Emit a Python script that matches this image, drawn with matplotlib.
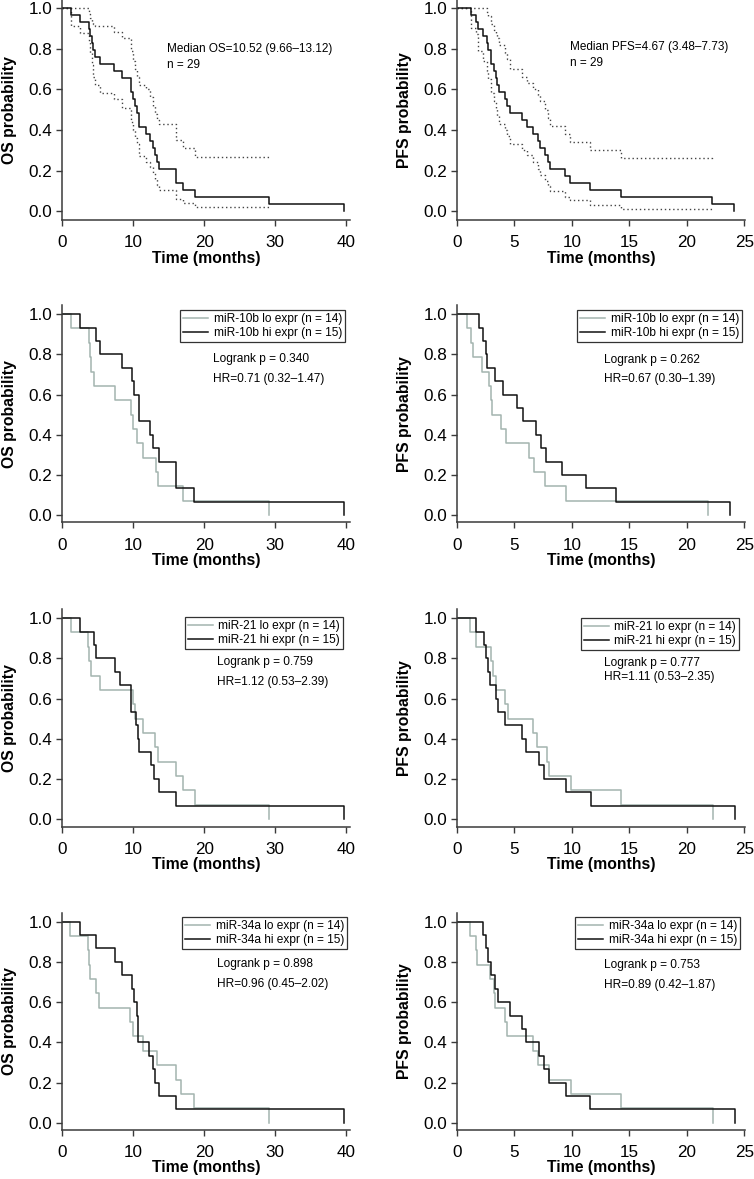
import matplotlib
matplotlib.use("Agg")
import matplotlib.pyplot as plt

plt.rcParams['font.family'] = ['Liberation Sans', 'DejaVu Sans']

# ---- overall OS (n = 29) ----
os_all_t = [0, 1.26, 2.53, 3.79, 3.98, 4.17, 4.4, 4.64, 5.3, 7.35, 8.38, 9.65, 10.0, 10.3, 10.6,
            10.87, 11.8, 12.37, 12.74, 13.07, 13.35, 13.63, 16.02, 17.05, 18.69, 29.13, 39.6]
os_all_s = [1, 0.966, 0.931, 0.897, 0.862, 0.828, 0.793, 0.759, 0.724, 0.690, 0.655, 0.586, 0.552, 0.517,
            0.483, 0.414, 0.379, 0.345, 0.310, 0.276, 0.241, 0.207, 0.138, 0.103, 0.069, 0.034, 0.0]
os_ci_t = [0, 1.26, 2.53, 3.79, 3.98, 4.17, 4.4, 4.64, 5.3, 7.35, 8.38, 9.65, 10.0, 10.3, 10.6,
           10.87, 11.8, 12.37, 12.74, 13.07, 13.35, 13.63, 16.02, 17.05, 18.69, 29.13]
os_ci_upper = [1, 1, 1, 0.97, 0.95, 0.93, 0.92, 0.91, 0.91, 0.88, 0.85, 0.79, 0.74, 0.70, 0.66,
               0.62, 0.60, 0.56, 0.52, 0.48, 0.45, 0.43, 0.35, 0.31, 0.265, 0.26]
os_ci_lower = [1, 0.91, 0.875, 0.83, 0.78, 0.72, 0.66, 0.62, 0.58, 0.55, 0.51, 0.44, 0.40, 0.36, 0.33,
               0.27, 0.24, 0.22, 0.19, 0.16, 0.13, 0.105, 0.06, 0.04, 0.02, 0.018]

# ---- overall PFS (n = 29) ----
pfs_all_t = [0, 1.21, 1.62, 1.79, 2.28, 2.57, 2.72, 2.92, 3.24, 3.35, 3.5, 3.64, 4.19, 4.34, 4.62,
             5.64, 6.07, 6.65, 7.08, 7.23, 7.66, 7.95, 8.09, 9.39, 9.83, 11.56, 14.25, 22.2, 24.05]
pfs_all_s = [1, 0.966, 0.931, 0.897, 0.862, 0.828, 0.793, 0.724, 0.690, 0.655, 0.621, 0.586, 0.552, 0.517,
             0.483, 0.448, 0.414, 0.379, 0.345, 0.310, 0.276, 0.241, 0.207, 0.172, 0.138, 0.103, 0.069,
             0.034, 0.0]
pfs_ci_t = [0, 1.21, 1.62, 1.79, 2.28, 2.57, 2.72, 2.92, 3.24, 3.35, 3.5, 3.64, 4.19, 4.34, 4.62,
            5.64, 6.07, 6.65, 7.08, 7.23, 7.66, 7.95, 8.09, 9.39, 9.83, 11.56, 14.25, 22.2]
pfs_ci_upper = [1, 1, 1, 1, 1, 0.98, 0.96, 0.92, 0.89, 0.87, 0.85, 0.82, 0.78, 0.75, 0.70,
                0.66, 0.63, 0.60, 0.57, 0.54, 0.50, 0.46, 0.42, 0.38, 0.34, 0.30, 0.26, 0.25]
pfs_ci_lower = [1, 0.90, 0.87, 0.79, 0.74, 0.69, 0.65, 0.58, 0.54, 0.51, 0.47, 0.43, 0.40, 0.37, 0.33,
                0.30, 0.275, 0.24, 0.21, 0.18, 0.15, 0.125, 0.10, 0.07, 0.053, 0.033, 0.013, 0.013]

# ---- miR-10b ----
mir10b_os_lo_t = [0, 1.26, 3.8, 3.93, 4.07, 4.54, 7.45, 9.65, 10.0, 10.5, 11.33, 13.2, 13.44, 17.05, 29.1]
mir10b_os_lo_s = [1, 0.929, 0.857, 0.786, 0.714, 0.643, 0.571, 0.50, 0.429, 0.357, 0.286, 0.214, 0.143, 0.071, 0]
mir10b_os_hi_t = [0, 2.53, 4.73, 5.34, 8.38, 9.8, 10.13, 10.8, 12.37, 12.74, 13.68, 16.0, 18.6, 39.6]
mir10b_os_hi_s = [1, 0.933, 0.867, 0.80, 0.733, 0.667, 0.60, 0.467, 0.40, 0.333, 0.267, 0.133, 0.067, 0]
mir10b_pfs_lo_t = [0, 0.84, 1.22, 1.36, 2.2, 2.8, 2.95, 3.07, 3.82, 4.25, 6.25, 6.68, 7.64, 9.52, 21.8]
mir10b_pfs_lo_s = [1, 0.929, 0.857, 0.786, 0.714, 0.643, 0.571, 0.50, 0.429, 0.357, 0.286, 0.214, 0.143, 0.071, 0]
mir10b_pfs_hi_t = [0, 1.94, 2.29, 2.52, 2.63, 3.3, 4.02, 5.24, 5.7, 6.83, 7.29, 7.78, 9.09, 11.26, 13.83, 23.73]
mir10b_pfs_hi_s = [1, 0.933, 0.867, 0.80, 0.733, 0.667, 0.60, 0.533, 0.467, 0.40, 0.333, 0.267, 0.20, 0.133, 0.067, 0]

# ---- miR-21 ----
mir21_os_lo_t = [0, 1.22, 3.7, 3.85, 4.03, 5.34, 10.0, 10.26, 11.4, 13.07, 13.5, 16.0, 16.95, 18.7, 29.1]
mir21_os_lo_s = [1, 0.929, 0.857, 0.786, 0.714, 0.643, 0.571, 0.50, 0.429, 0.357, 0.286, 0.214, 0.143, 0.071, 0]
mir21_os_hi_t = [0, 2.53, 4.54, 4.78, 7.45, 8.15, 9.7, 10.4, 10.63, 10.87, 12.5, 12.93, 13.68, 15.97, 39.6]
mir21_os_hi_s = [1, 0.933, 0.867, 0.80, 0.733, 0.667, 0.533, 0.467, 0.40, 0.333, 0.267, 0.20, 0.133, 0.067, 0]
mir21_pfs_lo_t = [0, 1.16, 1.65, 2.95, 3.15, 3.35, 4.2, 4.4, 6.57, 6.94, 7.87, 8.03, 9.92, 14.27, 22.28]
mir21_pfs_lo_s = [1, 0.929, 0.857, 0.786, 0.714, 0.643, 0.571, 0.50, 0.429, 0.357, 0.286, 0.214, 0.143, 0.071, 0]
mir21_pfs_hi_t = [0, 1.65, 2.37, 2.55, 2.7, 2.9, 3.39, 3.53, 4.2, 5.64, 6.0, 7.15, 7.6, 9.49, 11.63, 24.16]
mir21_pfs_hi_s = [1, 0.933, 0.867, 0.80, 0.733, 0.667, 0.60, 0.533, 0.467, 0.40, 0.333, 0.267, 0.20, 0.133, 0.067, 0]

# ---- miR-34a ----
mir34a_os_lo_t = [0, 1.12, 3.7, 3.85, 4.0, 4.73, 5.25, 9.55, 10.0, 11.33, 13.3, 15.97, 16.8, 18.6, 29.1]
mir34a_os_lo_s = [1, 0.929, 0.857, 0.786, 0.714, 0.643, 0.571, 0.50, 0.429, 0.357, 0.286, 0.214, 0.143, 0.071, 0]
mir34a_os_hi_t = [0, 2.53, 4.73, 7.45, 8.38, 9.79, 10.16, 10.5, 10.73, 12.27, 12.74, 13.07, 13.63, 15.97, 39.6]
mir34a_os_hi_s = [1, 0.933, 0.867, 0.80, 0.733, 0.667, 0.60, 0.533, 0.40, 0.333, 0.267, 0.20, 0.133, 0.067, 0]
mir34a_pfs_lo_t = [0, 1.16, 1.65, 1.7, 2.9, 3.18, 3.33, 4.14, 4.34, 6.65, 7.03, 8.04, 9.92, 14.27, 22.28]
mir34a_pfs_lo_s = [1, 0.929, 0.857, 0.786, 0.714, 0.643, 0.571, 0.50, 0.429, 0.357, 0.286, 0.214, 0.143, 0.071, 0]
mir34a_pfs_hi_t = [0, 2.26, 2.55, 2.69, 2.95, 3.33, 3.53, 4.63, 5.64, 6.0, 7.15, 7.6, 8.04, 9.49, 11.57, 24.16]
mir34a_pfs_hi_s = [1, 0.933, 0.867, 0.80, 0.733, 0.667, 0.60, 0.533, 0.467, 0.40, 0.333, 0.267, 0.20, 0.133, 0.067, 0]

mirnas = ["miR-10b", "miR-21", "miR-34a"]
logrank_p = ["0.340", "0.262", "0.759", "0.777", "0.898", "0.753"]
hr_text = ["HR=0.71 (0.32\u20131.47)", "HR=0.67 (0.30\u20131.39)", "HR=1.12 (0.53\u20132.39)",
           "HR=1.11 (0.53\u20132.35)", "HR=0.96 (0.45\u20132.02)", "HR=0.89 (0.42\u20131.87)"]

LO_COLOR = "#a3b4af"
HI_COLOR = "#111111"
AX_COLOR = "#3a3a3a"

W, H = 754, 1179
fig = plt.figure(figsize=(W / 100, H / 100), dpi=100)

col_left = [62, 457]
col_width = 288
rows = [(0, 220, -0.043, 1.039), (305, 522.3, -0.035, 1.045),
        (609, 826.7, -0.038, 1.046), (913, 1130, -0.036, 1.043)]


def make_ax(row, col):
    top, bot, y0, y1 = rows[row]
    ax = fig.add_axes([col_left[col] / W, 1 - bot / H, col_width / W, (bot - top) / H])
    ax.set_ylim(y0, y1)
    if col == 0:
        ax.set_xlim(0, 40.5)
        ax.set_xticks([0, 10, 20, 30, 40])
        ax.set_ylabel("OS probability", fontsize=11.3, fontweight="bold")
    else:
        ax.set_xlim(0, 25.05)
        ax.set_xticks([0, 5, 10, 15, 20, 25])
        ax.set_ylabel("PFS probability", fontsize=11.3, fontweight="bold")
    ax.set_yticks([0, 0.2, 0.4, 0.6, 0.8, 1.0])
    ax.set_yticklabels(["0.0", "0.2", "0.4", "0.6", "0.8", "1.0"])
    ax.set_xlabel("Time (months)", fontsize=11.3, fontweight="bold")
    ax.xaxis.set_label_coords(0.5, -0.14)
    ax.yaxis.set_label_coords(-0.155, 0.5)
    for s in ["top", "right"]:
        ax.spines[s].set_visible(False)
    for s in ["left", "bottom"]:
        ax.spines[s].set_color(AX_COLOR)
        ax.spines[s].set_linewidth(1.1)
    ax.tick_params(direction="out", length=4, width=1.0, color=AX_COLOR, labelsize=12.3, pad=3)
    ax.tick_params(axis="x", pad=7)
    ax.patch.set_alpha(0)
    return ax


# overall OS
ax = make_ax(0, 0)
ax.step(os_ci_t, os_ci_upper, where="post", color="#444444", lw=1.0, ls=(0, (1, 2)))
ax.step(os_ci_t, os_ci_lower, where="post", color="#444444", lw=1.0, ls=(0, (1, 2)))
ax.step(os_all_t, os_all_s, where="post", color=HI_COLOR, lw=1.1)
ax.text(14.75, 0.80, "Median OS=10.52 (9.66\u201313.12)", fontsize=8.5, va="center")
ax.text(14.75, 0.72, "n = 29", fontsize=8.5, va="center")

# overall PFS
ax = make_ax(0, 1)
ax.step(pfs_ci_t, pfs_ci_upper, where="post", color="#444444", lw=1.0, ls=(0, (1, 2)))
ax.step(pfs_ci_t, pfs_ci_lower, where="post", color="#444444", lw=1.0, ls=(0, (1, 2)))
ax.step(pfs_all_t, pfs_all_s, where="post", color=HI_COLOR, lw=1.1)
ax.text(9.8, 0.81, "Median PFS=4.67 (3.48\u20137.73)", fontsize=8.5, va="center")
ax.text(9.8, 0.73, "n = 29", fontsize=8.5, va="center")

groups = [
    (mir10b_os_lo_t, mir10b_os_lo_s, mir10b_os_hi_t, mir10b_os_hi_s),
    (mir10b_pfs_lo_t, mir10b_pfs_lo_s, mir10b_pfs_hi_t, mir10b_pfs_hi_s),
    (mir21_os_lo_t, mir21_os_lo_s, mir21_os_hi_t, mir21_os_hi_s),
    (mir21_pfs_lo_t, mir21_pfs_lo_s, mir21_pfs_hi_t, mir21_pfs_hi_s),
    (mir34a_os_lo_t, mir34a_os_lo_s, mir34a_os_hi_t, mir34a_os_hi_s),
    (mir34a_pfs_lo_t, mir34a_pfs_lo_s, mir34a_pfs_hi_t, mir34a_pfs_hi_s),
]
legend_anchor = [(0.983, 0.977), (0.990, 0.977), (0.976, 0.963),
                 (0.979, 0.959), (0.990, 0.982), (0.983, 0.982)]
text_pos = [(21.2, 0.776, 0.677), (12.76, 0.773, 0.678), (21.8, 0.783, 0.683),
            (12.76, 0.778, 0.708), (21.8, 0.788, 0.689), (12.76, 0.783, 0.686)]

for i, (lo_t, lo_s, hi_t, hi_s) in enumerate(groups):
    row, col = i // 2 + 1, i % 2
    ax = make_ax(row, col)
    name = mirnas[i // 2]
    ax.step(lo_t, lo_s, where="post", color=LO_COLOR, lw=1.1, label=f"{name} lo expr (n = 14)")
    ax.step(hi_t, hi_s, where="post", color=HI_COLOR, lw=1.1, label=f"{name} hi expr (n = 15)")
    leg = ax.legend(loc="upper right", bbox_to_anchor=legend_anchor[i], borderaxespad=0,
                    fontsize=8.6, frameon=True, fancybox=False, handlelength=2.1,
                    handletextpad=0.45, borderpad=0.25, labelspacing=0.15)
    leg.get_frame().set_edgecolor("black")
    leg.get_frame().set_linewidth(0.9)
    tx, ty1, ty2 = text_pos[i]
    ax.text(tx, ty1, f"Logrank p = {logrank_p[i]}", fontsize=8.6, va="center")
    ax.text(tx, ty2, hr_text[i], fontsize=8.6, va="center")

fig.savefig("out.png", dpi=100, facecolor="white")
